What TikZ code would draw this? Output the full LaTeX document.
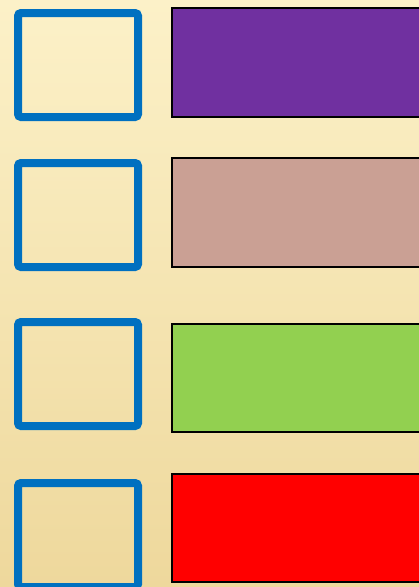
\documentclass[tikz,border=0pt]{standalone}
\usepackage{tikz}
\definecolor{pptblue}{RGB}{0, 112, 192}
\definecolor{pptpurple}{RGB}{112, 48, 160}
\definecolor{pptrose}{RGB}{202, 160, 148}
\definecolor{pptgreen}{RGB}{146, 208, 80}
\definecolor{pptred}{RGB}{255, 0, 0}
\definecolor{bglight}{RGB}{252, 241, 200}
\definecolor{bgdark}{RGB}{238, 216, 156}

\begin{document}
\begin{tikzpicture}[x=1pt, y=-1pt,
    keybox/.style={draw=pptblue, line width=8pt, rounded corners=3pt,
                   minimum width=120pt, minimum height=104pt, inner sep=0pt},
    swatch/.style={draw=black, line width=2pt, minimum width=300pt,
                   minimum height=109pt, inner sep=0pt, anchor=west}
  ]
    \useasboundingbox (0,0) rectangle (419,587);
    \clip (0,0) rectangle (419,587);
    \shade[top color=bglight, bottom color=bgdark] (0,0) rectangle (419,587);

    \node[keybox] (k1) at (78, 65) {};
    \node[keybox] (k2) at (78, 215) {};
    \node[keybox] (k3) at (78, 374) {};
    \node[keybox] (k4) at (78, 535) {};

    \node[swatch, fill=pptpurple] (s1) at (171, 62.5) {};
    \node[swatch, fill=pptrose] (s2) at (171, 212.5) {};
    \node[swatch, fill=pptgreen, minimum height=108pt] (s3) at (171, 378) {};
    \node[swatch, fill=pptred, minimum height=108pt] (s4) at (171, 528) {};
  \end{tikzpicture}
\end{document}
